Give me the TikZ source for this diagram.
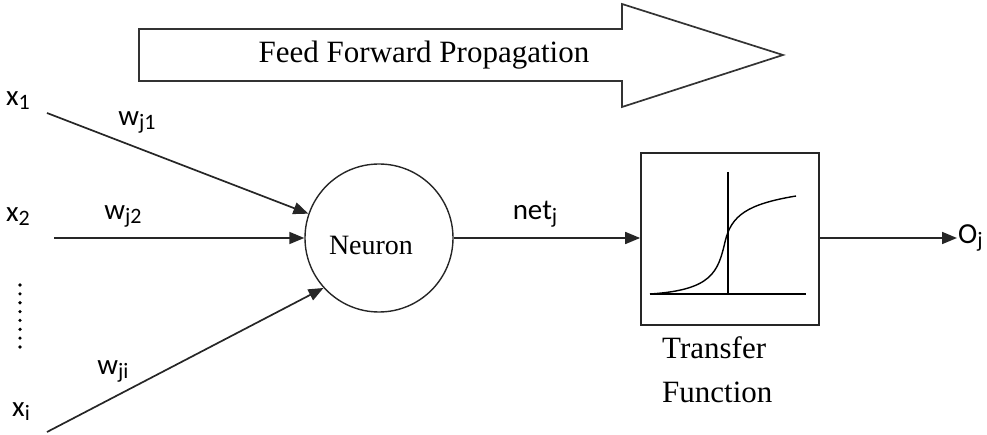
\documentclass[tikz,border=0pt]{standalone}
\usepackage{fontspec}
\setmainfont{Liberation Serif}
\newfontfamily\carlito{Carlito}
\usetikzlibrary{arrows.meta}
\newcommand\sbs[1]{\raisebox{-0.14em}{\fontsize{22}{24}\selectfont #1}}
\begin{document}
\begin{tikzpicture}[x=1pt,y=-1pt,
  ln/.style={line width=1.7pt,draw=black!85},
  arr/.style={ln,-{Triangle[length=15pt,width=12pt]}},
  lab/.style={font=\fontsize{29}{32}\selectfont\carlito,inner sep=1pt},
  ser/.style={font=\fontsize{31}{36}\selectfont,inner sep=0pt}]
\useasboundingbox (0,0) rectangle (987,435);
% big arrow
\draw[line width=1.7pt,draw=black!80,line join=miter] (139,29) -- (622,29) -- (622,4) -- (783,55) -- (622,107) -- (622,81) -- (139,81) -- cycle;
\node[ser,anchor=base] (ffp) at (424,63) {Feed Forward Propagation};
% inputs
\node[lab] (x1) at (18,101) {x\sbs{1}};
\node[lab] (x2) at (18,217) {x\sbs{2}};
\node[lab] (xi) at (21,412) {x\sbs{i}};
\foreach \k in {0,...,7} \fill (20,285+\k*8.86) circle (1.8pt);
\coordinate (s1) at (47,113);
\coordinate (s2) at (54,238);
\coordinate (s3) at (47,432);
% neuron
\node[circle,draw,line width=1.4pt,draw=black!85,minimum size=148pt,inner sep=0pt] (neu) at (379,238) {};
\node[font=\fontsize{28}{32}\selectfont,inner sep=0pt] (neut) at (371,245) {Neuron};
\draw[arr] (s1) -- (neu.161);
\draw[arr] (s2) -- (neu.west);
\draw[arr] (s3) -- (neu.-138);
\node[lab] (w1) at (137,122) {w\sbs{j1}};
\node[lab] (w2) at (123,216) {w\sbs{j2}};
\node[lab] (wi) at (113,371) {w\sbs{ji}};
% transfer box
\node[draw,ln,minimum width=178pt,minimum height=172pt,inner sep=0pt] (box) at (730,239) {};
\draw[line width=1.4pt] (650,294) -- (806,294);
\draw[line width=1.4pt] (728,172) -- (728,294);
\draw[line width=1.4pt] (650,294) .. controls (712,290) and (718,272) .. (725,242) .. controls (731,215) and (748,204) .. (796,196);
\draw[arr] (neu.east) -- (box.west |- neu.east);
\node[lab] (net) at (535,214) {net\sbs{j}};
\node[lab,anchor=west] (oj) at (957,238) {O\sbs{j}};
\draw[arr] (box.east |- oj.west) -- (oj.west);
\node[ser,anchor=base west] (tr1) at (662,358) {Transfer};
\node[ser,anchor=base west] (tr2) at (662,402) {Function};
\end{tikzpicture}
\end{document}
